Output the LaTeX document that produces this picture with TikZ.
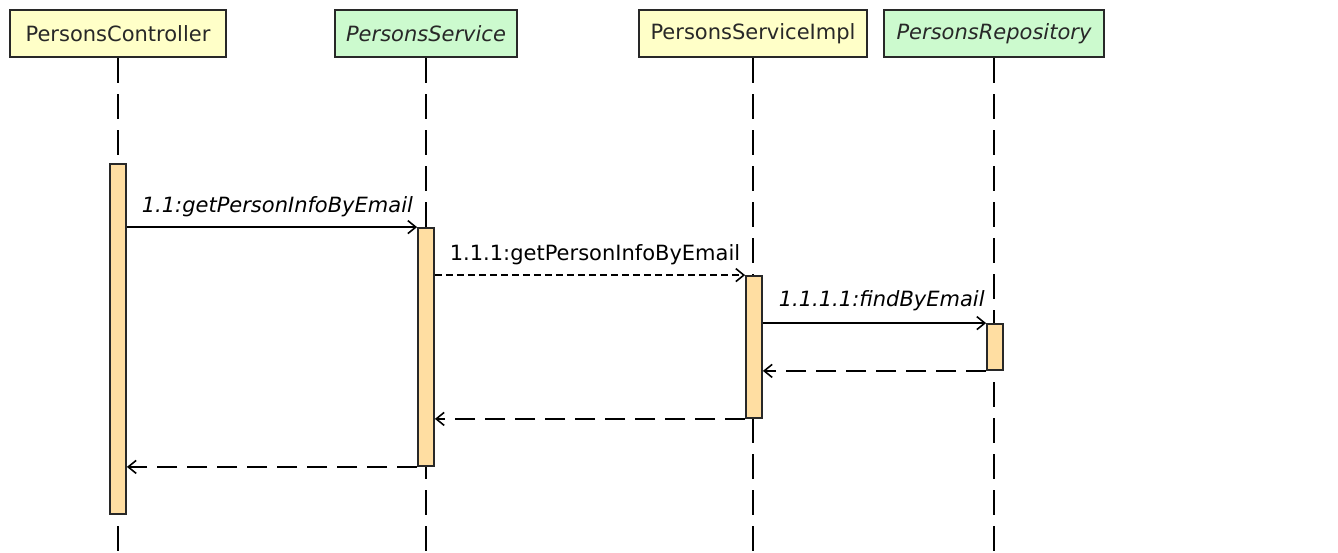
\documentclass[tikz,border=0pt]{standalone}
\usepackage{fontspec}
\setmainfont{DejaVu Sans}
\usetikzlibrary{arrows.meta}
\definecolor{hdryellow}{RGB}{255,255,200}
\definecolor{hdrgreen}{RGB}{204,250,206}
\definecolor{actfill}{RGB}{255,222,162}
\definecolor{inkgray}{RGB}{40,40,40}
\tikzset{
  hdr/.style={draw=inkgray, line width=2pt, minimum height=47pt, inner sep=0pt,
    text=inkgray, font=\fontsize{21}{25}\selectfont},
  ylw/.style={hdr, fill=hdryellow},
  grn/.style={hdr, fill=hdrgreen, font=\fontsize{21}{25}\selectfont\itshape},
  lifeline/.style={line width=1.8pt, dash pattern=on 25pt off 11pt},
  actbar/.style={draw=inkgray, line width=1.8pt, fill=actfill, minimum width=16pt, inner sep=0pt},
  msg/.style={line width=1.8pt, -{Straight Barb[length=8pt,width=13pt,line width=1.6pt]}},
  callmsg/.style={msg},
  asyncmsg/.style={msg, dash pattern=on 7pt off 4pt},
  retmsg/.style={msg, dash pattern=on 20pt off 10pt},
  lbl/.style={anchor=base west, inner sep=0pt, font=\fontsize{21}{25}\selectfont, text=black},
}
\begin{document}
\begin{tikzpicture}[x=1pt, y=-1pt]
\useasboundingbox (0,0) rectangle (1338,552);
% headers
\node[ylw, minimum width=216pt] (h1) at (118,33.5) {PersonsController};
\node[grn, minimum width=182pt] (h2) at (426,33.5) {PersonsService};
\node[ylw, minimum width=228pt] (h3) at (753,33.5) {PersonsServiceImpl};
\node[grn, minimum width=220pt] (h4) at (994,33.5) {PersonsRepository};
\coordinate (bottom) at (0,553);
% lifelines
\draw[lifeline] (h1.south) -- (h1.south |- bottom);
\draw[lifeline] (h2.south) -- (h2.south |- bottom);
\draw[lifeline] (h3.south) -- (h3.south |- bottom);
\draw[lifeline] (h4.south) -- (h4.south |- bottom);
% activation bars
\node[actbar, minimum height=350pt] (a1) at (118,339) {};
\node[actbar, minimum height=238pt] (a2) at (426,347) {};
\node[actbar, minimum height=142pt] (a3) at (754,347) {};
\node[actbar, minimum height=46pt] (a4) at (995,347) {};
% messages
\draw[callmsg] (a1.east |- a2.north) -- (a2.north west)
  node[lbl, pos=0, xshift=14pt, yshift=15pt] (m1) {\itshape 1.1:getPersonInfoByEmail};
\draw[asyncmsg] (a2.east |- a3.north) -- (a3.north west)
  node[lbl, pos=0, xshift=14pt, yshift=15pt] (m2) {1.1.1:getPersonInfoByEmail};
\draw[callmsg] (a3.east |- a4.north) -- (a4.north west)
  node[lbl, pos=0, xshift=15pt, yshift=17pt] (m3) {\itshape 1.1.1.1:findByEmail};
% returns
\draw[retmsg] (a4.south west) -- (a3.east |- a4.south);
\draw[retmsg] (a3.south west) -- (a2.east |- a3.south);
\draw[retmsg] (a2.south west) -- (a1.east |- a2.south);
\end{tikzpicture}
\end{document}
